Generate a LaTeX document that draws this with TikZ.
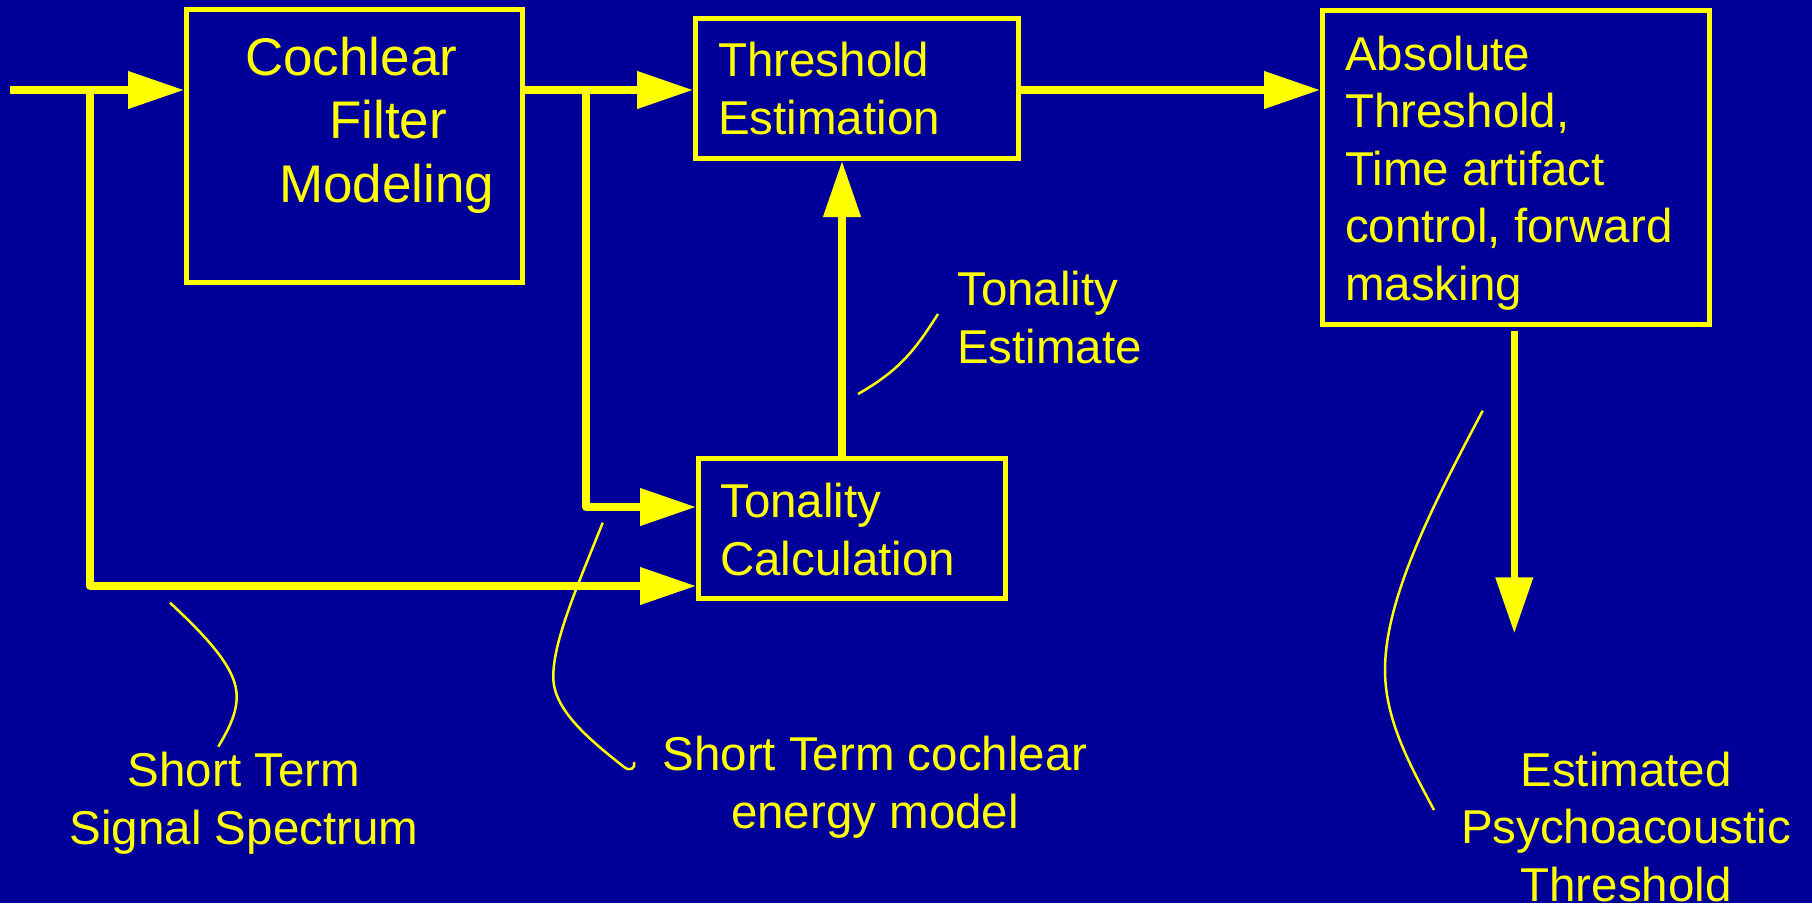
\documentclass[tikz,border=0pt]{standalone}
\usepackage{fontspec}
\setmainfont{Liberation Sans}
\usetikzlibrary{arrows.meta}
\definecolor{bgblue}{RGB}{0,0,153}
\definecolor{ylw}{RGB}{255,255,0}
\newcommand\fA{\fontsize{47.5}{57.5}\selectfont}
\newcommand\fB{\fontsize{53}{63.5}\selectfont}
\begin{document}
\begin{tikzpicture}[x=1pt,y=-1pt,
  blk/.style={draw=ylw,line width=5pt,inner sep=0pt,rectangle},
  txt/.style={text=ylw,inner sep=0pt,font=\fA,align=left,anchor=base west},
  ctxt/.style={text=ylw,inner sep=0pt,font=\fA,align=center,anchor=base},
  conn/.style={draw=ylw,line width=7.5pt,line join=round},
  arr/.style={conn,-{Triangle[length=56pt,width=36pt]}},
  lead/.style={draw=ylw,line width=2.5pt}]
\fill[bgblue] (0,0) rectangle (1812,903);
\useasboundingbox (0,0) rectangle (1812,903);
% boxes
\node[blk,minimum width=336pt,minimum height=273pt] (coch) at (354.5,146) {};
\node[blk,minimum width=322.5pt,minimum height=140pt] (thr) at (856.75,88.5) {};
\node[blk,minimum width=307pt,minimum height=140pt] (tc) at (852,528.5) {};
\node[blk,minimum width=387pt,minimum height=314pt] (abs) at (1516,167) {};
% box texts (anchor is baseline of last line)
\node[txt,font=\fB] (cochT) at (245,202) {Cochlear\\\hspace*{84pt}Filter\\\hspace*{34pt}Modeling};
\node[txt] (thrT) at (718,134) {Threshold\\Estimation};
\node[txt] (tcT) at (720,575) {Tonality\\Calculation};
\node[txt] (absT) at (1345,300) {Absolute\\Threshold,\\Time artifact\\control, forward\\masking};
% labels
\node[txt] (tonE) at (957,363) {Tonality\\Estimate};
\node[ctxt] (estT) at (1626,901) {Estimated\\Psychoacoustic\\Threshold};
\node[ctxt] (sts) at (244,844) {Short Term\\Signal Spectrum};
\node[ctxt] (stc) at (875,828) {Short Term cochlear\\energy model};
% coordinates
\coordinate (in) at (10,90);
\coordinate (b1) at (90,90);
\coordinate (c1) at (90,586);
\coordinate (b2) at (586,90);
\coordinate (c2) at (586,507);
\coordinate (upx) at (842,300);
\coordinate (outend) at (1514.3,633.3);
% connectors
\draw[arr] (in) -- (in -| coch.west);
\draw[arr] (in -| coch.east) -- (in -| thr.west);
\draw[arr] (in -| thr.east) -- (in -| abs.west);
\draw[arr] (b1) -- (c1) -- (c1 -| tc.west);
\draw[arr] (b2) -- (c2) -- (c2 -| tc.west);
\draw[arr] (tc.north -| upx) -- (thr.south -| upx);
\draw[arr,shorten <=4.5pt] (abs.south -| outend) -- (outend);
% leader lines
\draw[lead] (858,394) .. controls (900,370) and (915,350) .. (938,314);
\draw[lead] (1482.7,410.7) .. controls (1430,510) and (1385,600) .. (1385,670) .. controls (1385,720) and (1410,765) .. (1434,810);
\draw[lead] (170,602.7) .. controls (210,640) and (237,670) .. (236.7,696.7) .. controls (236.5,715) and (228,730) .. (218.3,746.7);
\draw[lead] (602.7,522.7) .. controls (580,580) and (553,640) .. (553.3,676.7) .. controls (553,710) and (590,740) .. (624,767) .. controls (630,772) and (636,768) .. (634,762);
\end{tikzpicture}
\end{document}
